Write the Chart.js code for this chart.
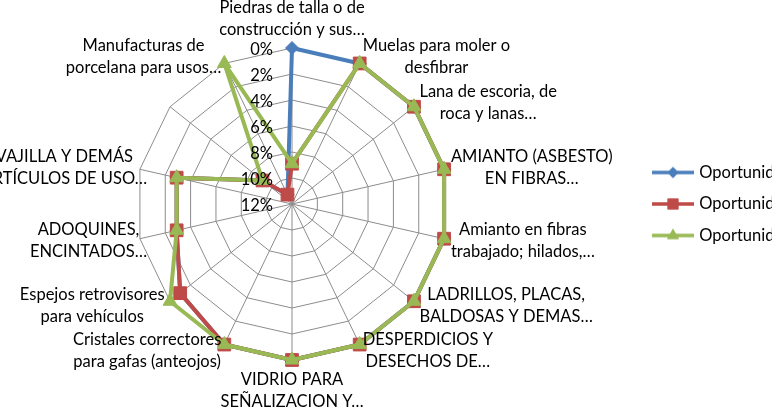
<!DOCTYPE html>
<html>
<head>
<meta charset="utf-8">
<script src="https://cdn.jsdelivr.net/npm/chart.js@4"></script>
<style>
  html, body { margin: 0; padding: 0; background: #ffffff; overflow: hidden; }
  #wrap { width: 772px; height: 410px; position: relative; overflow: hidden; }
  #c { position: absolute; left: -56px; top: 0; }
</style>
</head>
<body>
<div id="wrap"><canvas id="c" width="828" height="410"></canvas></div>
<script>
// ---- Data ----
const categories = [
  ["Piedras de talla o de", "construcción y sus…"],
  ["Muelas para moler o", "desfibrar"],
  ["Lana de escoria, de", "roca y lanas…"],
  ["AMIANTO (ASBESTO)", "EN FIBRAS…"],
  ["Amianto en fibras", "trabajado; hilados,…"],
  ["LADRILLOS, PLACAS,", "BALDOSAS Y DEMAS…"],
  ["DESPERDICIOS Y", "DESECHOS DE…"],
  ["VIDRIO PARA", "SEÑALIZACION Y…"],
  ["Cristales correctores", "para gafas (anteojos)"],
  ["Espejos retrovisores", "para vehículos"],
  ["ADOQUINES,", "ENCINTADOS…"],
  ["VAJILLA Y DEMÁS", "ARTÍCULOS DE USO…"],
  [""],
  ["Manufacturas de", "porcelana para usos…"]
];
const seriesNames = ["Oportunidad 1", "Oportunidad 2", "Oportunidad 3"];
const serie1 = [0, 0, 0, 0, 0, 0, 0, 0, 0, 1.0, 2.9, 2.9, 9.1, 11.2];
const serie2 = [8.9, 0, 0, 0, 0, 0, 0, 0, 0, 1.0, 2.9, 2.9, 9.1, 11.2];
const serie3 = [8.9, 0, 0, 0, 0, 0, 0, 0, 0, 0, 2.9, 2.9, 9.1, 0];
const tickMin = 0, tickMax = 12, tickStep = 2;

// ---- Styles ----
const FONT = "Lato";
const FS = 16.5;
const colors = ["#4A7EBB", "#BE4B48", "#98B954"];
const markers = ["rectRot", "rect", "triangle"];
const markerRadius = [6.5, 9, 8];

function legendImage(color, style, r) {
  const cv = document.createElement('canvas');
  cv.width = 42; cv.height = 18;
  const g = cv.getContext('2d');
  g.strokeStyle = color; g.lineWidth = 3.5; g.lineCap = 'butt';
  g.beginPath(); g.moveTo(0, 9); g.lineTo(42, 9); g.stroke();
  g.fillStyle = color;
  Chart.helpers.drawPoint(g, {pointStyle: style, radius: r * 0.85, borderWidth: 0, rotation: 0}, 21, 9);
  g.fill();
  return cv;
}

const labelPlugin = {
  id: 'labelPlugin',
  afterDatasetsDraw(chart) {
    const s = chart.scales.r;
    const ctx = chart.ctx;
    ctx.save();
    ctx.fillStyle = '#000000';
    ctx.font = FS + 'px ' + FONT;
    // tick labels, right-aligned to the left of the vertical spoke
    ctx.textAlign = 'right';
    ctx.textBaseline = 'middle';
    const seen = new Set();
    s.ticks.forEach(t => {
      if (seen.has(t.value)) return;
      seen.add(t.value);
      const d = s.getDistanceFromCenterForValue(t.value);
      ctx.fillText(t.label, s.xCenter - 19, s.yCenter - d + 2);
    });
    // point labels
    const labels = chart.data.labels;
    const n = labels.length;
    const lh = 22;
    ctx.textAlign = 'center';
    labels.forEach((lines, i) => {
      if (!lines || !lines.join('')) return;
      const p = s.getPointPosition(i, s.drawingArea + 7);
      const deg = Math.round((360 / n) * i) % 360;
      const h = lines.length * lh;
      const bw = Math.max(...lines.map(l => ctx.measureText(l).width));
      let cx, top;
      if (deg === 0) { cx = p.x; top = p.y - h; }
      else if (deg === 180) { cx = p.x; top = p.y + 2; }
      else if (deg < 180) { cx = p.x + bw / 2; top = p.y - h / 2; }
      else {
        cx = p.x - bw / 2; top = p.y - h / 2;
        if (deg > 240 && deg < 300) cx += 14; // near-horizontal left labels sit over the rim
      }
      lines.forEach((l, k) => ctx.fillText(l, cx, top + lh * (k + 0.5)));
    });
    ctx.restore();
  }
};

const datasets = [serie1, serie2, serie3].map((vals, k) => ({
  label: seriesNames[k],
  data: vals,
  borderColor: colors[k],
  backgroundColor: colors[k],
  pointBackgroundColor: colors[k],
  pointBorderColor: colors[k],
  borderWidth: 4,
  pointStyle: markers[k],
  pointRadius: markerRadius[k],
  pointBorderWidth: 1,
  fill: false,
  tension: 0,
  order: 2 - k
}));

new Chart(document.getElementById('c'), {
  type: 'radar',
  data: { labels: categories, datasets },
  options: {
    responsive: false,
    animation: false,
    devicePixelRatio: 1,
    layout: { padding: { left: 0, right: 0, top: 48, bottom: 50 } },
    elements: { line: { borderJoinStyle: 'round' } },
    scales: {
      r: {
        min: tickMin,
        max: tickMax,
        reverse: true,
        beginAtZero: true,
        ticks: { display: false, stepSize: tickStep, callback: v => v + '%' },
        afterBuildTicks: sc => { sc.ticks = [{ value: sc.ticks[0].value }].concat(sc.ticks); },
        grid: { color: '#8C8C8C', lineWidth: 1, circular: false },
        angleLines: { color: '#8C8C8C', lineWidth: 1 },
        pointLabels: { display: false }
      }
    },
    plugins: {
      tooltip: { enabled: false },
      legend: {
        position: 'right',
        maxWidth: 132,
        labels: {
          usePointStyle: true,
          pointStyleWidth: 36,
          padding: 15,
          color: '#000000',
          font: { family: FONT, size: FS },
          generateLabels: chart => chart.data.datasets.map((ds, k) => ({
            text: ds.label,
            fillStyle: colors[k],
            strokeStyle: colors[k],
            lineWidth: 0,
            pointStyle: legendImage(colors[k], markers[k], markerRadius[k]),
            datasetIndex: k,
            hidden: false
          }))
        }
      }
    }
  },
  plugins: [labelPlugin]
});
</script>
</body>
</html>
